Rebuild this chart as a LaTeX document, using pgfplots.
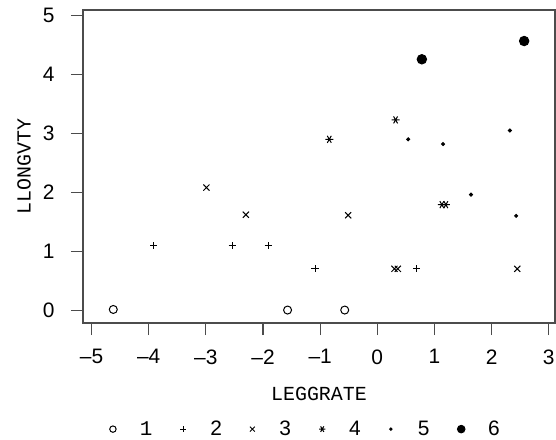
\documentclass[border=0pt]{standalone}
\usepackage{pgfplots}
\pgfplotsset{compat=1.18}
\usepackage{fontspec}
\setmainfont{Liberation Sans}
\newfontfamily\monofont{Liberation Mono}
\begin{document}
\begin{tikzpicture}
\begin{axis}[
	clip=false,
	scale only axis,
	width=472bp, height=313bp,
	xmin=-5.15, xmax=3.11,
	ymin=-0.22, ymax=5.097,
	xtick={-5,-4,-3,-2,-1,0,1,2,3},
	xticklabels={--5,--4,--3,--2,--1,0,1,2,3},
	ytick={0,1,2,3,4,5},
	yticklabels={0,1,2,3,4,5},
	tick align=outside,
	major tick length=12bp,
	xtick pos=bottom, ytick pos=left,
	axis line style={black!70, line width=1.1bp},
	tick style={black!70, line width=1.1bp},
	tick label style={font=\fontsize{21}{25}\selectfont},
	xticklabel style={yshift=-11bp},
	yticklabel style={xshift=-13bp},
	xlabel={LEGGRATE}, ylabel={LLONGVTY},
	label style={font=\monofont\fontsize{20}{24}\selectfont},
	xlabel style={at={(axis description cs:0.5,-0.227)}, anchor=center},
	ylabel style={at={(axis description cs:-0.125,0.5)}, anchor=center},
	legend columns=-1,
	legend style={draw=none, fill=none, at={(axis description cs:0.472,-0.339)}, anchor=center,
		font=\fontsize{21}{25}\selectfont,
		/tikz/every even column/.append style={column sep=26bp}},
	legend image code/.code={
		\path[draw=none, fill=none] (-2bp,0bp) rectangle (25bp,0bp);
		\draw[#1, /tikz/every mark/.append style={scale=0.8}] plot coordinates {(0bp,0bp)};},
	every axis plot/.append style={only marks, black, line width=1bp},
]
% group 1
\addplot[mark=o, mark size=4bp] coordinates {(-4.62,0.01) (-1.57,0.0) (-0.57,0.0)};
% group 2
\addplot[mark=+, mark size=3.6bp] coordinates {(-3.91,1.09) (-2.54,1.09) (-1.91,1.09) (-1.09,0.70) (0.69,0.70)};
% group 3
\addplot[mark=x, mark size=4.3bp] coordinates {(-2.99,2.08) (-2.30,1.62) (-0.51,1.61) (0.30,0.70) (0.36,0.70) (2.45,0.70)};
% group 4
\addplot[mark=asterisk, mark size=4bp, mark options={rotate=90}] coordinates {(-0.84,2.90) (0.32,3.23) (1.13,1.79) (1.20,1.79)};
% group 5
\addplot[mark=*, mark size=1.5bp] coordinates {(0.54,2.90) (1.15,2.82) (2.32,3.05) (1.64,1.96) (2.43,1.60)};
% group 6
\addplot[mark=*, mark size=4.7bp] coordinates {(0.78,4.26) (2.57,4.57)};
\legend{{\monofont 1},2,3,4,5,6}
\end{axis}
\pgfresetboundingbox
\useasboundingbox (-83bp,-117bp) rectangle (473bp,323bp);
\end{tikzpicture}
\end{document}
